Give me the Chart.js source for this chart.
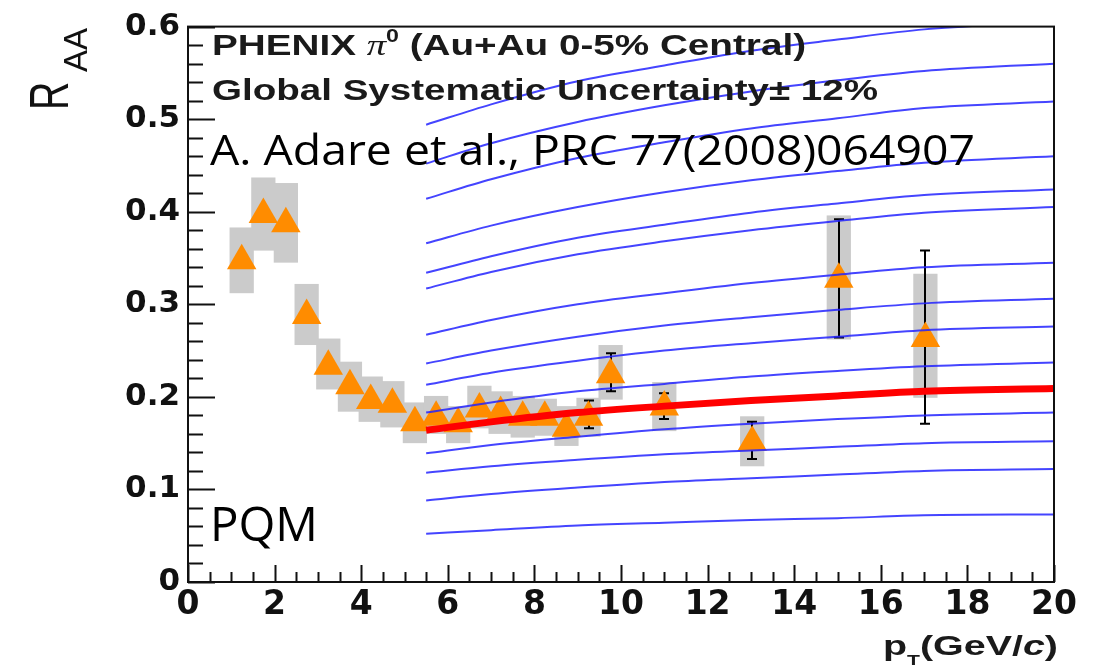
<!DOCTYPE html>
<html>
<head>
<meta charset="utf-8">
<title>PHENIX pi0 RAA vs PQM</title>
<script src="https://cdn.jsdelivr.net/npm/chart.js@4.4.1/dist/chart.umd.min.js"></script>
<style>
  html, body { margin: 0; padding: 0; background: #fff; }
  #wrap { width: 1102px; height: 666px; }
</style>
</head>
<body>
<div id="wrap"><canvas id="raaChart" width="1102" height="666"></canvas></div>
<script>
// PHENIX pi0 points (Au+Au 0-5%)
const ptPoints  = [1.24, 1.74, 2.26, 2.74, 3.24, 3.74, 4.22, 4.72, 5.24, 5.73, 6.24, 6.73, 7.22, 7.73, 8.24, 8.74, 9.25, 9.76, 11.0, 13.03, 15.03, 17.03];
const raaPoints = [0.347, 0.397, 0.387, 0.288, 0.233, 0.212, 0.196, 0.192, 0.172, 0.178, 0.171, 0.187, 0.183, 0.178, 0.178, 0.166, 0.178, 0.224, 0.189, 0.151, 0.327, 0.263];
const sysLow    = [0.312, 0.358, 0.345, 0.256, 0.208, 0.184, 0.173, 0.167, 0.150, 0.160, 0.150, 0.166, 0.160, 0.156, 0.158, 0.147, 0.157, 0.197, 0.163, 0.125, 0.262, 0.199];
const sysHigh   = [0.383, 0.437, 0.431, 0.322, 0.263, 0.238, 0.222, 0.217, 0.194, 0.201, 0.190, 0.212, 0.206, 0.201, 0.198, 0.190, 0.199, 0.256, 0.216, 0.179, 0.396, 0.333];

// statistical error bars (only visible ones)
const statPt   = [9.25, 9.76, 11.0, 13.03, 15.03, 17.03];
const statLow  = [0.166, 0.206, 0.176, 0.133, 0.264, 0.171];
const statHigh = [0.196, 0.247, 0.204, 0.173, 0.392, 0.358];

// PQM curves
const pqmPt = [5.5, 7, 9, 11, 13, 15, 17, 20];
const pqmLine1  = [0.494, 0.516, 0.541, 0.558, 0.574, 0.586, 0.597, 0.605];
const pqmLine2  = [0.452, 0.474, 0.497, 0.515, 0.530, 0.542, 0.552, 0.560];
const pqmLine3  = [0.414, 0.435, 0.458, 0.475, 0.490, 0.501, 0.512, 0.519];
const pqmLine4  = [0.366, 0.385, 0.405, 0.421, 0.434, 0.444, 0.453, 0.460];
const pqmLine5  = [0.334, 0.352, 0.372, 0.386, 0.399, 0.409, 0.418, 0.424];
const pqmLine6  = [0.317, 0.335, 0.354, 0.368, 0.380, 0.390, 0.399, 0.405];
const pqmLine7  = [0.267, 0.283, 0.300, 0.312, 0.323, 0.332, 0.340, 0.345];
const pqmLine8  = [0.236, 0.250, 0.265, 0.277, 0.286, 0.294, 0.301, 0.306];
const pqmLine9  = [0.213, 0.226, 0.239, 0.250, 0.258, 0.265, 0.272, 0.276];
const pqmLine10 = [0.183, 0.194, 0.206, 0.214, 0.222, 0.228, 0.233, 0.237];
const pqmLine11 = [0.139, 0.148, 0.157, 0.165, 0.171, 0.176, 0.180, 0.183];
const pqmLine12 = [0.118, 0.125, 0.132, 0.138, 0.142, 0.146, 0.150, 0.152];
const pqmLine13 = [0.088, 0.095, 0.102, 0.108, 0.112, 0.116, 0.120, 0.122];
const pqmLine14 = [0.052, 0.056, 0.061, 0.064, 0.067, 0.069, 0.072, 0.073];
const pqmBest   = [0.164, 0.173, 0.183, 0.190, 0.196, 0.201, 0.206, 0.209];
const pqmLines = [pqmLine1, pqmLine2, pqmLine3, pqmLine4, pqmLine5, pqmLine6, pqmLine7,
                  pqmLine8, pqmLine9, pqmLine10, pqmLine11, pqmLine12, pqmLine13, pqmLine14];

const xTickLabels = ['0', '2', '4', '6', '8', '10', '12', '14', '16', '18', '20'];
const yTickLabels = ['0', '0.1', '0.2', '0.3', '0.4', '0.5', '0.6'];

const toXY = (xs, ys) => xs.map((x, i) => ({ x: x, y: ys[i] }));

const datasets = [];
pqmLines.forEach(line => {
  datasets.push({
    type: 'line',
    data: toXY(pqmPt, line),
    borderColor: 'rgba(35, 35, 255, 0.85)',
    borderWidth: 2,
    pointRadius: 0,
    cubicInterpolationMode: 'monotone',
    fill: false,
    order: 2
  });
});
datasets.push({
  type: 'line',
  data: toXY(pqmPt, pqmBest),
  borderColor: '#ff0000',
  borderWidth: 7,
  pointRadius: 0,
  cubicInterpolationMode: 'monotone',
  fill: false,
  order: 1
});
datasets.push({
  type: 'scatter',
  data: toXY(ptPoints, raaPoints),
  pointStyle: 'triangle',
  pointRadius: 17,
  backgroundColor: '#ff8c00',
  borderWidth: 0,
  order: 3
});

// grey systematic boxes + stat error bars, under the markers
const boxesAndBars = {
  id: 'boxesAndBars',
  beforeDatasetsDraw(chart) {
    const { ctx, chartArea: a, scales: { x, y } } = chart;
    ctx.save();
    ctx.beginPath();
    ctx.rect(a.left, a.top, a.right - a.left, a.bottom - a.top);
    ctx.clip();
    ctx.fillStyle = '#cbcbcb';
    ptPoints.forEach((pt, i) => {
      const x0 = x.getPixelForValue(pt - 0.28);
      const x1 = x.getPixelForValue(pt + 0.28);
      const y0 = y.getPixelForValue(sysHigh[i]);
      const y1 = y.getPixelForValue(sysLow[i]);
      ctx.fillRect(x0, y0, x1 - x0, y1 - y0);
    });
    ctx.strokeStyle = '#000';
    ctx.lineWidth = 2;
    ctx.beginPath();
    statPt.forEach((pt, i) => {
      const px = Math.round(x.getPixelForValue(pt));
      const top = y.getPixelForValue(statHigh[i]);
      const bot = y.getPixelForValue(statLow[i]);
      ctx.moveTo(px, top); ctx.lineTo(px, bot);
      ctx.moveTo(px - 5, top); ctx.lineTo(px + 5, top);
      ctx.moveTo(px - 5, bot); ctx.lineTo(px + 5, bot);
    });
    ctx.stroke();
    ctx.restore();
  }
};

// ROOT style frame with inner ticks
const frameTicks = {
  id: 'frameTicks',
  afterDraw(chart) {
    const { ctx, chartArea: a, scales: { x, y } } = chart;
    ctx.save();
    ctx.strokeStyle = '#111';
    ctx.lineWidth = 2;
    ctx.strokeRect(a.left, a.top, a.right - a.left, a.bottom - a.top);
    ctx.beginPath();
    for (let k = 0; k <= 40; k++) {
      const px = Math.round(x.getPixelForValue(k * 0.5)) + 0.5;
      const len = k % 4 === 0 ? 17 : 10;
      ctx.moveTo(px, a.bottom);
      ctx.lineTo(px, a.bottom - len);
    }
    for (let k = 0; k <= 30; k++) {
      const py = Math.round(y.getPixelForValue(k * 0.02)) + 0.5;
      const len = k % 5 === 0 ? 27 : 15;
      ctx.moveTo(a.left, py);
      ctx.lineTo(a.left + len, py);
    }
    ctx.stroke();
    ctx.restore();
  }
};

function drawRun(ctx, parts, x, y, targetW) {
  let w = 0;
  parts.forEach(p => { ctx.font = p.font; w += ctx.measureText(p.text).width; });
  ctx.save();
  ctx.translate(x, y);
  ctx.scale(targetW / w, 1);
  let cx = 0;
  parts.forEach(p => {
    ctx.font = p.font;
    ctx.fillText(p.text, cx, p.dy || 0);
    cx += ctx.measureText(p.text).width;
  });
  ctx.restore();
}

const annotations = {
  id: 'annotations',
  afterDraw(chart) {
    const ctx = chart.ctx;
    const bold = 'bold 30px "Liberation Sans"';
    ctx.save();
    ctx.textAlign = 'left';
    ctx.textBaseline = 'alphabetic';
    ctx.fillStyle = '#1a1a1a';
    drawRun(ctx, [
      { text: 'PHENIX ', font: bold },
      { text: 'π', font: 'italic 30px "Liberation Serif"' },
      { text: '0', font: 'bold 18px "Liberation Sans"', dy: -13 },
      { text: ' (Au+Au 0-5% Central)', font: bold }
    ], 212, 55, 594);
    drawRun(ctx, [{ text: 'Global Systematic Uncertainty± 12%', font: bold }], 212, 100, 666);

    drawRun(ctx, [
      { text: 'p', font: 'bold 28px "Liberation Sans"' },
      { text: 'T', font: 'bold 15px "Liberation Sans"', dy: 10 },
      { text: '(GeV/', font: 'bold 28px "Liberation Sans"' },
      { text: 'c', font: 'bold italic 28px "Liberation Sans"' },
      { text: ')', font: 'bold 28px "Liberation Sans"' }
    ], 883, 655, 175);

    ctx.fillStyle = '#000';
    drawRun(ctx, [{ text: 'A. Adare et al., PRC 77(2008)064907', font: '42px "Open Sans"' }], 210, 165, 765);
    drawRun(ctx, [{ text: 'PQM', font: '48px "Open Sans"' }], 210, 541, 108);

    // y axis title R_AA
    ctx.fillStyle = '#111';
    ctx.translate(68, 110);
    ctx.rotate(-Math.PI / 2);
    ctx.save();
    ctx.scale(0.7, 1);
    ctx.font = '56px "Liberation Sans"';
    ctx.fillText('R', 0, 0);
    ctx.restore();
    ctx.font = '33px "Liberation Sans"';
    ctx.fillText('AA', 38, 19);
    ctx.restore();
  }
};

const tickFont = { family: '"DejaVu Sans"', weight: 'bold', size: 31 };

new Chart(document.getElementById('raaChart'), {
  type: 'scatter',
  data: { datasets: datasets },
  options: {
    responsive: false,
    animation: false,
    devicePixelRatio: 1,
    layout: { padding: { top: 19, right: 48, left: 0, bottom: 0 } },
    plugins: { legend: { display: false }, tooltip: { enabled: false } },
    scales: {
      x: {
        type: 'linear',
        min: 0,
        max: 20,
        grid: { display: false, drawTicks: false },
        border: { display: false },
        ticks: {
          stepSize: 2,
          autoSkip: false,
          maxRotation: 0,
          padding: 4,
          color: '#111',
          font: { family: '"DejaVu Sans"', weight: 'bold', size: 33 },
          callback: (v, i) => xTickLabels[i]
        },
        afterFit: s => { s.height = 84; }
      },
      y: {
        type: 'linear',
        min: 0,
        max: 0.6,
        grid: { display: false, drawTicks: false },
        border: { display: false },
        ticks: {
          stepSize: 0.1,
          autoSkip: false,
          padding: 8,
          color: '#111',
          font: tickFont,
          callback: (v, i) => yTickLabels[i]
        },
        afterFit: s => { s.width = 188; }
      }
    }
  },
  plugins: [boxesAndBars, frameTicks, annotations]
});
</script>
</body>
</html>
